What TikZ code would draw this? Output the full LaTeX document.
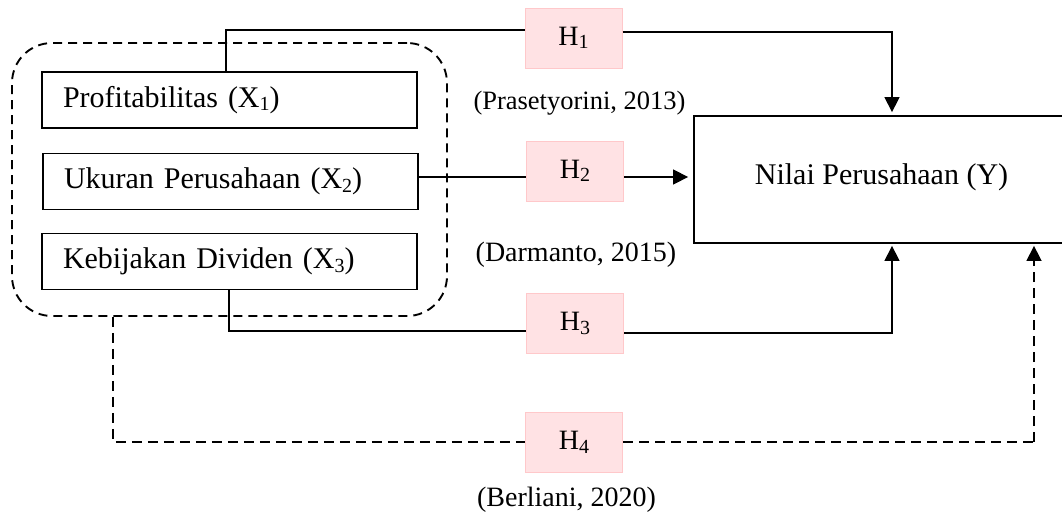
\documentclass[tikz,border=0pt]{standalone}
\usepackage{fontspec}
\setmainfont{Liberation Serif}
\usetikzlibrary{arrows.meta}
\definecolor{hfill}{HTML}{FFE2E4}
\definecolor{hdraw}{HTML}{FFC8CA}
\newcommand{\sbs}[1]{\raisebox{-0.12em}{\fontsize{20}{20}\selectfont #1}}
\tikzset{
  varbox/.style={draw=black, line width=1.8pt, minimum height=56pt, text width=333pt, inner xsep=21pt, align=left, font=\fontsize{30}{32}\selectfont},
  hbox/.style={draw=hdraw, fill=hfill, line width=1pt, minimum width=97pt, minimum height=60pt, inner sep=0pt, font=\fontsize{28}{29}\selectfont},
  conn/.style={draw=black, line width=1.3pt},
  arr/.style={conn, -{Triangle[length=15pt,width=15pt]}},
  dconn/.style={draw=black, line width=1.8pt, dash pattern=on 10pt off 6pt},
  cite/.style={inner sep=0pt, font=\fontsize{28}{30}\selectfont},
}
\begin{document}
\begin{tikzpicture}[x=1pt, y=-1pt]
\useasboundingbox (0,0) rectangle (1062,512);
\clip (0,0) rectangle (1062,512);
% group box
\node[draw=black, line width=1.9pt, dash pattern=on 9pt off 6pt, rounded corners=40pt, minimum width=435pt, minimum height=273pt, inner sep=0pt] (grp) at (229.5,179.5) {};
% variable boxes
\node[varbox] (X1) at (229.5,100) {Profitabilitas (X\sbs{1})};
\node[varbox] (X2) at (230.5,181.5) {Ukuran Perusahaan (X\sbs{2})};
\node[varbox] (X3) at (229.5,261.5) {Kebijakan Dividen (X\sbs{3})};
% dependent
\node[draw=black, line width=1.8pt, minimum width=375pt, minimum height=127pt, inner sep=0pt, font=\fontsize{30}{32}\selectfont] (Y) at (881.5,179.5) {\raisebox{11pt}{Nilai Perusahaan (Y)}};
% hypothesis boxes
\node[hbox] (H1) at (573.5,38) {H\sbs{1}};
\node[hbox] (H2) at (575,171) {H\sbs{2}};
\node[hbox] (H3) at (575,323.5) {H\sbs{3}};
\node[hbox] (H4) at (574,442.5) {H\sbs{4}};
% citations
\node[cite, font=\fontsize{26.5}{28}\selectfont] (c1) at (579.5,103) {(Prasetyorini, 2013)};
\node[cite] (c2) at (576,255) {(Darmanto, 2015)};
\node[cite] (c4) at (566.5,500) {(Berliani, 2020)};
% routing coordinates
\coordinate (p1) at (226,30);
\coordinate (q1) at (892,32);
\coordinate (p2) at (418,177);
\coordinate (p3) at (229,331);
\coordinate (q3) at (892,333);
\coordinate (p4) at (113,442);
\coordinate (q4) at (1034,442);
% H1
\draw[conn] (X1.north -| p1) -- (p1) -- (p1 -| H1.west);
\draw[arr, shorten >=3pt] (H1.east |- q1) -| (Y.north -| q1);
% H2
\draw[conn] (X2.east |- p2) -- (H2.west |- p2);
\draw[arr, shorten >=5pt] (H2.east |- p2) -- (Y.west |- p2);
% H3
\draw[conn] (X3.south -| p3) -- (p3) -- (p3 -| H3.west);
\draw[arr, shorten >=2pt] (H3.east |- q3) -| (Y.south -| q3);
% H4
\draw[dconn] (grp.south -| p4) -- (p4) -- (H4.west |- p4);
\draw[dconn] (H4.east |- q4) -- (q4);
\draw[conn, line width=1.5pt, dash pattern=on 10pt off 6pt, -{Triangle[length=15pt,width=15pt]}, shorten >=2pt] (q4) -- (Y.south -| q4);
\end{tikzpicture}
\end{document}
